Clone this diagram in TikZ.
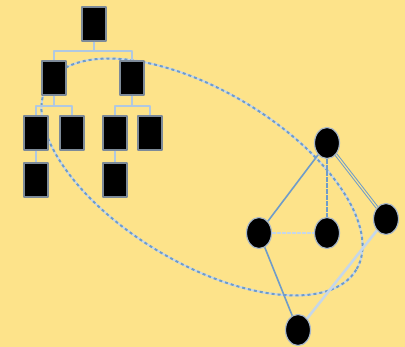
\documentclass[tikz,border=0pt]{standalone}
\usepackage{xcolor}
\usetikzlibrary{shapes.geometric}
\definecolor{bgyellow}{HTML}{FDE38A}
\definecolor{edgeblue}{HTML}{6F9CC9}
\definecolor{paleblue}{HTML}{C6D7E9}
\definecolor{rimgray}{HTML}{7D8A98}
\tikzset{
  treebox/.style={rectangle,fill=black,draw=rimgray,line width=1.5pt,minimum width=24pt,minimum height=34pt,inner sep=0pt},
  graphdot/.style={ellipse,fill=black,draw=paleblue!60!rimgray,line width=1.2pt,minimum width=25pt,minimum height=31pt,inner sep=0pt},
  treelink/.style={paleblue!75!edgeblue,line width=2pt},
}
\begin{document}
\begin{tikzpicture}[x=1pt,y=-1pt,line join=round]
  \fill[bgyellow] (0,0) rectangle (405,347);
  \useasboundingbox (0,0) rectangle (405,347);
  % the ellipse round the subtree
  \coordinate (oval) at (202,177);
  \draw[paleblue,line width=2pt,rotate around={-31:(oval)}] (oval) ellipse [x radius=180,y radius=86];
  \draw[edgeblue,line width=2pt,dash pattern=on 3pt off 3pt,rotate around={-31:(oval)}] (oval) ellipse [x radius=180,y radius=86];
  % tree
  \node[treebox] (root) at (94,24) {};
  \node[treebox] (a) at (54,78) {};
  \node[treebox] (b) at (132,78) {};
  \node[treebox] (a1) at (36,133) {};
  \node[treebox] (a2) at (72,133) {};
  \node[treebox] (b1) at (115,133) {};
  \node[treebox] (b2) at (150,133) {};
  \node[treebox] (a11) at (36,180) {};
  \node[treebox] (b11) at (115,180) {};
  \draw[treelink] (root.south) -- ++(0,9) -| (a.north);
  \draw[treelink] (root.south) -- ++(0,9) -| (b.north);
  \draw[treelink] (a.south) -- ++(0,10) -| (a1.north);
  \draw[treelink] (a.south) -- ++(0,10) -| (a2.north);
  \draw[treelink] (b.south) -- ++(0,10) -| (b1.north);
  \draw[treelink] (b.south) -- ++(0,10) -| (b2.north);
  \draw[treelink] (a1.south) -- (a11.north);
  \draw[treelink] (b1.south) -- (b11.north);
  % graph
  \node[graphdot] (gt) at (327,143) {};
  \node[graphdot] (gl) at (259,233) {};
  \node[graphdot] (gm) at (327,233) {};
  \node[graphdot] (gr) at (386,219) {};
  \node[graphdot] (gb) at (298,330) {};
  \draw[edgeblue,line width=1.6pt] (gt) -- (gl);
  \draw[edgeblue,line width=2.4pt,dash pattern=on 5pt off 1pt] (gt) -- (gm);
  \draw[edgeblue,double=bgyellow,double distance=1.2pt,line width=1pt] (gt) -- (gr);
  \draw[paleblue,line width=1.5pt,dash pattern=on 4pt off 1pt] (gl) -- (gm);
  \draw[edgeblue,line width=1.6pt] (gl) -- (gb);
  \draw[paleblue,line width=2.6pt] (gr) -- (gb);
\end{tikzpicture}
\end{document}
